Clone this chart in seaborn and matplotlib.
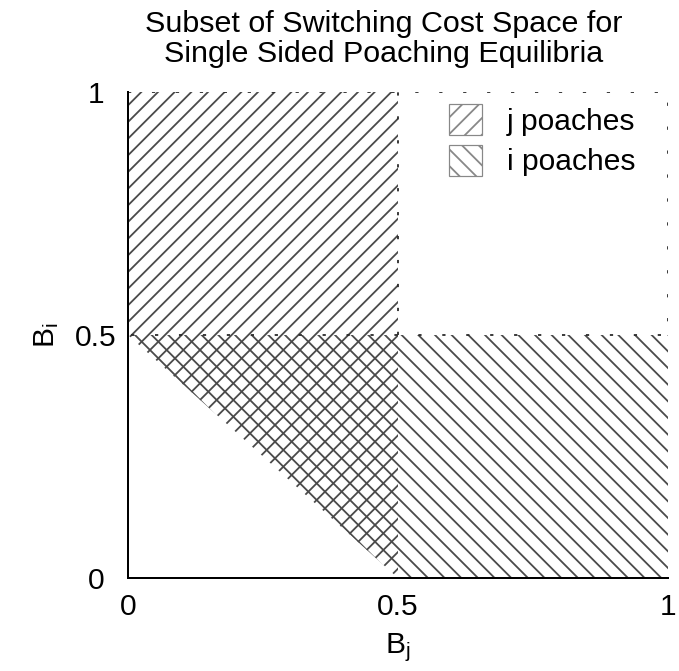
import matplotlib

matplotlib.use("Agg")
import matplotlib.pyplot as plt
import seaborn as sns
from matplotlib.patches import Patch

# region outlines in (B_j, B_i) space
J_POACH_X = [0.0, 0.5, 0.5, 0.0]
J_POACH_Y = [1.0, 1.0, 0.0, 0.5]
I_POACH_X = [0.0, 1.0, 1.0, 0.5]
I_POACH_Y = [0.5, 0.5, 0.0, 0.0]

# dotted boundaries of the upper region
OUTER_X = [0.0, 1.0, 1.0, 0.0]
OUTER_Y = [1.0, 1.0, 0.5, 0.5]
MID_X = [0.5, 0.5]
MID_Y = [0.5, 1.0]

TICKS = [0, 0.5, 1]
TICK_LABELS = ["0", "0.5", "1"]
LABELS = ["j poaches", "i poaches"]
HATCHES = ["//", "\\\\"]

HATCH_GREY = "#4a4a4a"
DPI = 100
PX = 72 / DPI  # points per pixel


def configure_style() -> None:
    sns.set_theme(style="white")
    plt.rcParams.update(
        {
            "font.family": ["Liberation Sans", "DejaVu Sans"],
            "mathtext.fontset": "custom",
            "mathtext.rm": "Liberation Sans",
            "mathtext.it": "Liberation Sans",
            "text.color": "black",
            "axes.labelcolor": "black",
            "hatch.linewidth": 1.8 * PX,
            "hatch.color": HATCH_GREY,
        }
    )


def main() -> None:
    configure_style()
    fig = plt.figure(figsize=(679 / DPI, 671 / DPI), dpi=DPI)
    ax = fig.add_axes([128 / 679, 1 - 578 / 671, 540 / 679, 486 / 671])

    ax.fill(J_POACH_X, J_POACH_Y, facecolor="none", edgecolor=HATCH_GREY, linewidth=0, hatch=HATCHES[0])
    ax.fill(I_POACH_X, I_POACH_Y, facecolor="none", edgecolor=HATCH_GREY, linewidth=0, hatch=HATCHES[1])

    dots = dict(color="#2a2a2a", linewidth=1.8 * PX, dashes=(1.8, 11.5), dash_capstyle="butt")
    ax.plot(OUTER_X, OUTER_Y, **dots)
    ax.plot(MID_X, MID_Y, **dots)

    ax.set_xlim(0, 1)
    ax.set_ylim(0, 1)
    ax.set_xticks(TICKS)
    ax.set_xticklabels(TICK_LABELS)
    ax.set_yticks(TICKS)
    ax.set_yticklabels(TICK_LABELS)
    ax.tick_params(axis="both", length=0, labelsize=30 * PX, colors="black")
    ax.tick_params(axis="x", pad=15 * PX)
    ax.tick_params(axis="y", pad=32 * PX)
    for lab in ax.get_yticklabels():
        lab.set_horizontalalignment("center")

    sns.despine(ax=ax)
    for side in ("left", "bottom"):
        ax.spines[side].set_color("black")
        ax.spines[side].set_linewidth(2 * PX)
        ax.spines[side].set_zorder(5)

    ax.set_xlabel(r"B$_\mathregular{j}$", fontsize=30 * PX, labelpad=10 * PX)
    ax.set_ylabel(r"B$_\mathregular{i}$", fontsize=30 * PX, labelpad=14 * PX)

    handles = [
        Patch(facecolor="white", edgecolor="#888888", linewidth=1.2 * PX, hatch=h, label=lab)
        for h, lab in zip(HATCHES, LABELS)
    ]
    ax.legend(
        handles=handles,
        loc="upper right",
        bbox_to_anchor=(0.99, 1.03),
        frameon=False,
        fontsize=30 * PX,
        handlelength=1.1,
        handleheight=1.2,
        handletextpad=0.85,
        labelspacing=0.3,
    )

    fig.text(
        384 / 679,
        1 - 10 / 671,
        "Subset of Switching Cost Space for\nSingle Sided Poaching Equilibria",
        ha="center",
        va="top",
        fontsize=30.5 * PX,
        linespacing=1.08,
    )

    fig.savefig("out.png", dpi=DPI)
    plt.close(fig)


if __name__ == "__main__":
    main()
